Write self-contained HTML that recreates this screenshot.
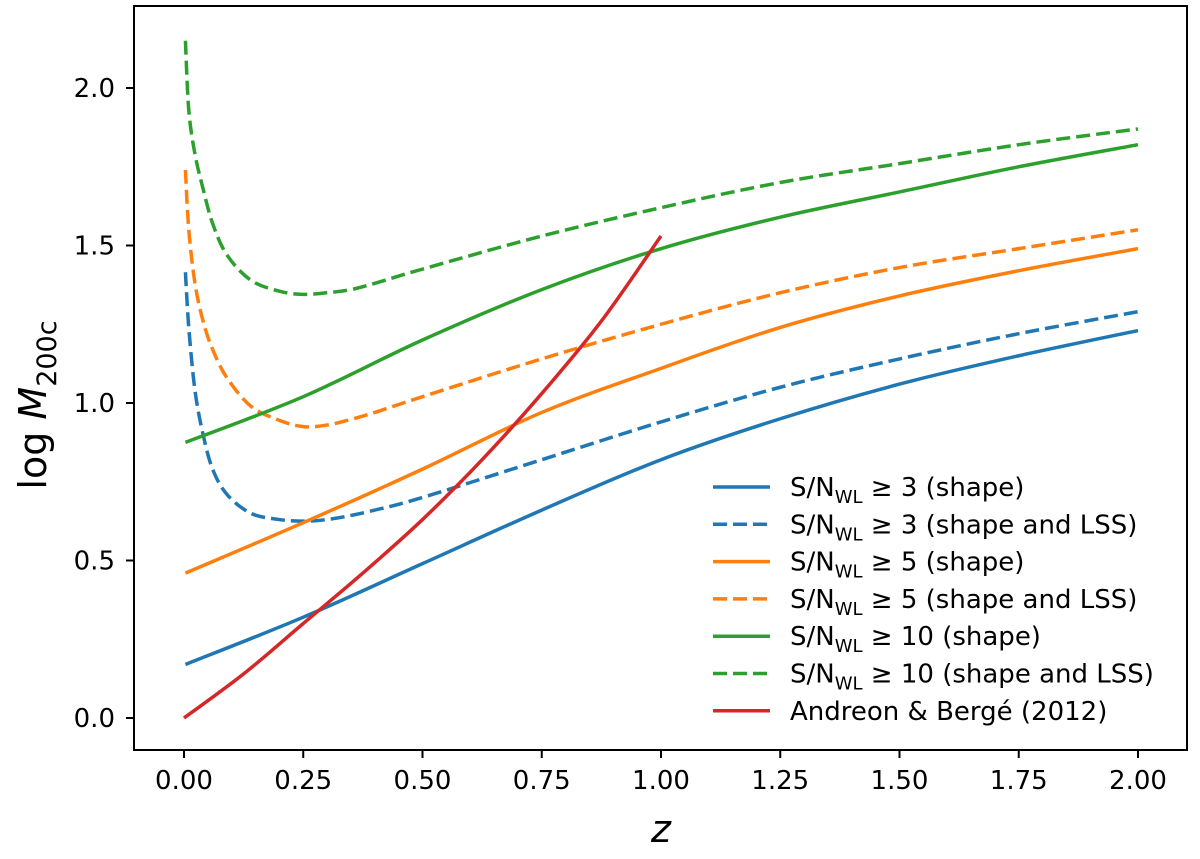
<!DOCTYPE html>
<html><head><meta charset="utf-8"><style>
body{margin:0;background:#fff}
svg{display:block;font-family:"DejaVu Sans","Liberation Sans",sans-serif}
</style></head><body>
<svg id="chart" width="1200" height="859">
<rect x="0" y="0" width="1200" height="859" fill="#fff"/>
<g id="plot"></g>
<g id="axes"></g>
<g id="legend"></g>
</svg>
<script>
const zGrid=[0.003,0.01,0.023,0.04,0.06,0.09,0.14,0.2,0.25,0.3,0.35,0.4,0.5,0.75,1.0,1.25,1.5,1.75,2.0];
const zSolid=[0.003,0.25,0.5,0.75,1.0,1.25,1.5,1.75,2.0];
const blueSolid=[0.17,0.32,0.49,0.66,0.82,0.95,1.06,1.15,1.23];
const blueDash=[1.415,1.24,1.04,0.90,0.79,0.71,0.65,0.63,0.625,0.63,0.643,0.66,0.70,0.82,0.94,1.05,1.14,1.22,1.29];
const orangeSolid=[0.46,0.62,0.79,0.97,1.11,1.24,1.34,1.42,1.49];
const orangeDash=[1.74,1.55,1.38,1.26,1.17,1.08,0.99,0.945,0.925,0.93,0.948,0.97,1.02,1.14,1.25,1.35,1.43,1.49,1.55];
const greenSolid=[0.875,1.02,1.2,1.36,1.49,1.59,1.67,1.75,1.82];
const greenDash=[2.15,1.93,1.79,1.68,1.57,1.47,1.39,1.355,1.345,1.35,1.36,1.38,1.425,1.53,1.62,1.70,1.76,1.82,1.87];
const zRed=[0,0.125,0.25,0.375,0.5,0.625,0.75,0.875,1.0];
const redVals=[0.0,0.14,0.3,0.46,0.63,0.82,1.03,1.26,1.53];
const xTicks=[0,0.25,0.5,0.75,1.0,1.25,1.5,1.75,2.0];
const xTickLabels=["0.00","0.25","0.50","0.75","1.00","1.25","1.50","1.75","2.00"];
const yTicks=[0,0.5,1.0,1.5,2.0];
const yTickLabels=["0.0","0.5","1.0","1.5","2.0"];
const legendLabels=[["3","shape"],["3","shape and LSS"],["5","shape"],["5","shape and LSS"],["10","shape"],["10","shape and LSS"]];

const NS="http://www.w3.org/2000/svg";
const X=z=>184+477*z, Y=v=>718-315*v;
function mk(tag,attrs,parent){const e=document.createElementNS(NS,tag);for(const k in attrs)e.setAttribute(k,attrs[k]);parent.appendChild(e);return e;}
const plot=document.getElementById('plot'),axes=document.getElementById('axes'),leg=document.getElementById('legend');
function smooth(xs,ys){
  const p=xs.map((z,i)=>[X(z),Y(ys[i])]);
  let d=`M${p[0][0]},${p[0][1]}`;
  for(let i=0;i<p.length-1;i++){
    const p0=p[i-1]||p[i],p1=p[i],p2=p[i+1],p3=p[i+2]||p2;
    const c1=[p1[0]+(p2[0]-p0[0])/6,p1[1]+(p2[1]-p0[1])/6];
    const c2=[p2[0]-(p3[0]-p1[0])/6,p2[1]-(p3[1]-p1[1])/6];
    d+=` C${c1[0]},${c1[1]} ${c2[0]},${c2[1]} ${p2[0]},${p2[1]}`;
  }
  return d;
}
const series=[
 ["blue-solid",zSolid,blueSolid,"#1f77b4",false],
 ["blue-dashed",zGrid,blueDash,"#1f77b4",true],
 ["orange-solid",zSolid,orangeSolid,"#ff7f0e",false],
 ["orange-dashed",zGrid,orangeDash,"#ff7f0e",true],
 ["green-solid",zSolid,greenSolid,"#2ca02c",false],
 ["green-dashed",zGrid,greenDash,"#2ca02c",true],
 ["red-andreon-berge",zRed,redVals,"#d62728",false]];
series.forEach(s=>{
  const el=mk('path',{d:smooth(s[1],s[2]),fill:'none',stroke:s[3],'stroke-width':3.5},plot);
  if(s[4])el.setAttribute('stroke-dasharray','14,6');
  
  
});
const fr=mk('rect',{x:134,y:6,width:1053,height:744,fill:'none',stroke:'#000','stroke-width':2},axes);


xTicks.forEach((t,i)=>{
  mk('line',{x1:X(t),x2:X(t),y1:750,y2:758,stroke:'#000','stroke-width':2},axes);
  const tx=mk('text',{x:X(t),y:789,'text-anchor':'middle','font-size':26},axes);
  tx.textContent=xTickLabels[i];
  
  
});
yTicks.forEach((t,i)=>{
  mk('line',{x1:126,x2:134,y1:Y(t),y2:Y(t),stroke:'#000','stroke-width':2},axes);
  const tx=mk('text',{x:115,y:Y(t)+9,'text-anchor':'end','font-size':26},axes);
  tx.textContent=yTickLabels[i];
  
  
});
const xl=mk('text',{x:661,y:842,'text-anchor':'middle','font-size':38,'font-style':'italic'},axes);
xl.textContent='z';


const yl=mk('text',{x:0,y:0,'text-anchor':'middle','font-size':38,transform:'translate(46,405) rotate(-90)'},axes);
yl.innerHTML='log <tspan font-style="italic">M</tspan><tspan font-size="27" dy="10">200c</tspan>';


const lc=["#1f77b4","#1f77b4","#ff7f0e","#ff7f0e","#2ca02c","#2ca02c","#d62728"];
for(let i=0;i<7;i++){
  const y=487+37.3*i;
  const ln=mk('line',{x1:713,x2:770,y1:y,y2:y,stroke:lc[i],'stroke-width':3.5},leg);
  if(i<6&&i%2==1)ln.setAttribute('stroke-dasharray','14,6');
  
  
  const t=mk('text',{x:790,y:y+9,'font-size':26},leg);
  if(i<6){t.innerHTML='S/N<tspan font-size="18" dy="7">WL</tspan><tspan dy="-7"> ≥ '+legendLabels[i][0]+' ('+legendLabels[i][1]+')</tspan>';}
  else t.textContent='Andreon & Bergé (2012)';
  
  
}
</script>
</body></html>
